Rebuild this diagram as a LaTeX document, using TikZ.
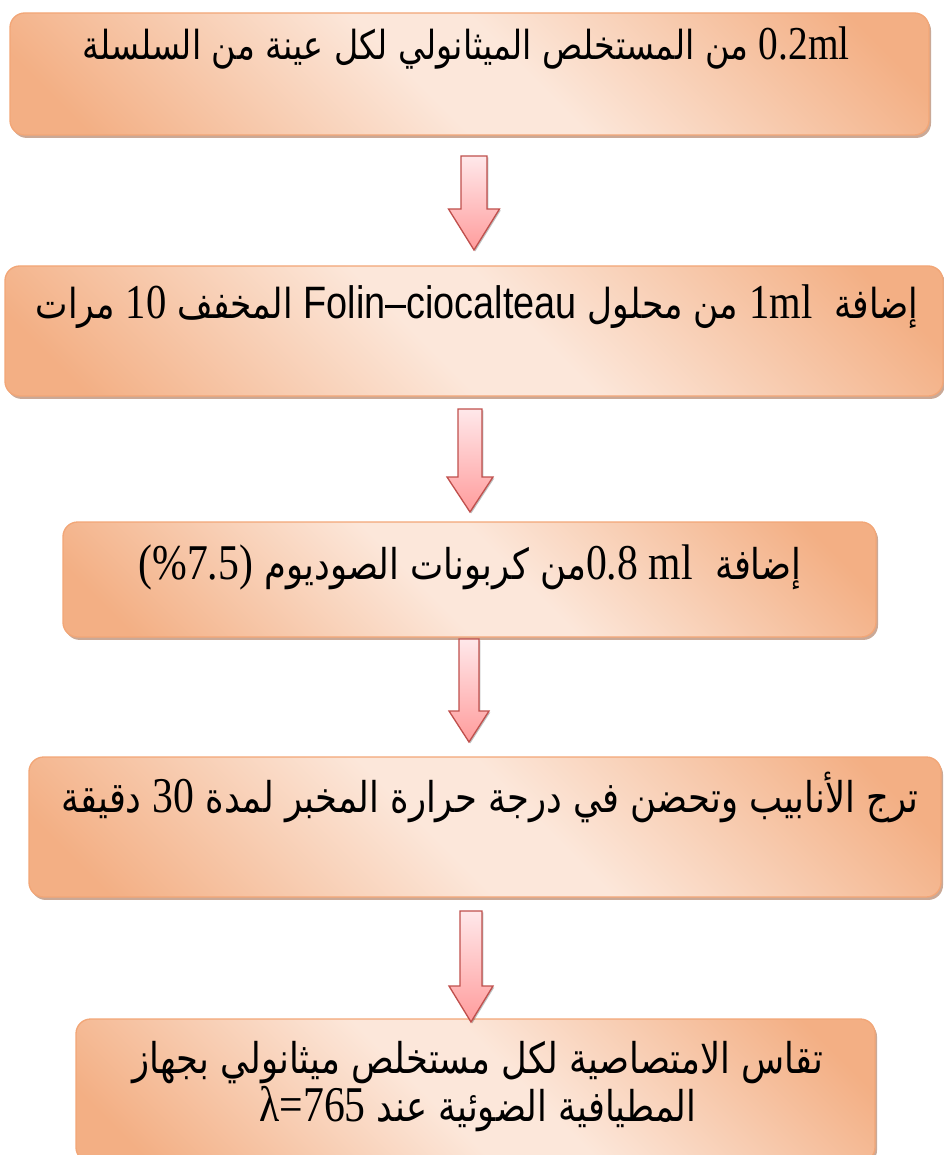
\documentclass[tikz,border=0pt]{standalone}
\usepackage{graphicx}
\usepackage{fontspec}
\setmainfont{Liberation Serif}
\newfontfamily\arabicfont[Script=Arabic]{DejaVu Sans}
\newfontfamily\latserif[Scale=1.18]{Liberation Serif}
\newfontfamily\latsansfont[Scale=1.1]{Liberation Sans}
\TeXXeTstate=1
\usetikzlibrary{calc,shadows}

\definecolor{boxdark}{HTML}{F3AF84}
\definecolor{boxlight}{HTML}{FCE7DA}
\definecolor{boxline}{HTML}{F2A677}
\definecolor{boxshadow}{HTML}{C4A08C}
\definecolor{arrowtop}{HTML}{FFE8EA}
\definecolor{arrowbot}{HTML}{FF9C9C}
\definecolor{arrowline}{HTML}{C0504D}

\pgfdeclarehorizontalshading{boxfill}{100bp}{color(0bp)=(boxdark); color(20bp)=(boxdark);
  color(46bp)=(boxlight); color(54bp)=(boxlight); color(80bp)=(boxdark); color(100bp)=(boxdark)}

% one line of right-to-left text, stretched like the original
\newcommand\rtl[1]{\scalebox{1}[1.2]{\beginR #1\endR}}
\newcommand\lat[1]{\beginL{\latserif #1}\endL}
\newcommand\latsans[1]{\beginL{\latsansfont #1}\endL}

\tikzset{ b/.style = { rectangle % step box
        , rounded corners = 11pt
        , draw = boxline
        , line width = 1pt
        , shading = boxfill
        , shading angle = 45
        , drop shadow = {shadow xshift=1.5pt, shadow yshift=-2.2pt, fill=boxshadow, opacity=0.9}
        }
        , t/.style = { rectangle % step text
        , inner sep = 0pt
        , align = center
        , font = \arabicfont\fontsize{26.5}{36}\selectfont
        }
        }

\begin{document}
\begin{tikzpicture}[x=0.75pt, y=-0.75pt,
        box_style/.style={b},
        text_style/.style={t},
        arrow_style/.style n args={3}{draw=arrowline, line width=1pt, top color=arrowtop, bottom color=arrowbot,
          drop shadow={shadow xshift=1pt, shadow yshift=-1pt, fill=black, opacity=0.25},
          to path={($(\tikztostart)+(-#1,0)$) -- ($(\tikztotarget)+(-#1,-#3)$) -- ($(\tikztotarget)+(-#2,-#3)$)
            -- (\tikztotarget) -- ($(\tikztotarget)+(#2,-#3)$) -- ($(\tikztotarget)+(#1,-#3)$)
            -- ($(\tikztostart)+(#1,0)$) -- cycle}}]
        \useasboundingbox (0,0) rectangle (944,1155);

        \node [box_style, minimum width={919*0.75pt}, minimum height={122*0.75pt}] (b1) at (469.5,74) {};
        \node [box_style, minimum width={938*0.75pt}, minimum height={130*0.75pt}] (b2) at (474,331) {};
        \node [box_style, minimum width={813*0.75pt}, minimum height={115*0.75pt}] (b3) at (469.5,579.5) {};
        \node [box_style, minimum width={912*0.75pt}, minimum height={140*0.75pt}] (b4) at (485,827) {};
        \node [box_style, minimum width={799*0.75pt}, minimum height={143*0.75pt}] (b5) at (475.5,1090.5) {};

        \node [text_style, font=\arabicfont\fontsize{25}{35}\selectfont] (t1) at (466,48) {\rtl{\lat{0.2ml} من المستخلص الميثانولي لكل عينة من السلسلة}};
        \node [text_style, font=\arabicfont\fontsize{25.8}{35}\selectfont] (t2) at (477,307) {\rtl{إضافة\ \ \lat{1ml} من محلول \latsans{Folin–ciocalteau} المخفف \lat{10} مرات}};
        \node [text_style] (t3) at (470,567) {\rtl{إضافة\ \ \lat{0.8 ml}من كربونات الصوديوم \lat{(\%7.5)}}};
        \node [text_style] (t4) at (490,797) {\rtl{ترج الأنابيب وتحضن في درجة حرارة المخبر لمدة \lat{30} دقيقة}};
        \node [text_style] (t5) at (478,1087) {\rtl{تقاس الامتصاصية لكل مستخلص ميثانولي بجهاز}\\
          \rtl{المطيافية الضوئية عند \lat{λ=765}}};

        \coordinate (a1) at (474,156);  \coordinate (h1) at (474,250);
        \coordinate (a2) at (470,409);  \coordinate (h2) at (470,512);
        \coordinate (a3) at (469,639);  \coordinate (h3) at (469,742);
        \coordinate (a4) at (471,911);  \coordinate (h4) at (471,1022);
        \draw [arrow_style={13}{25.5}{41}] (a1) to (h1);
        \draw [arrow_style={12}{23}{35}] (a2) to (h2);
        \draw [arrow_style={10}{20}{31}] (a3) to (h3);
        \draw [arrow_style={11}{22}{36}] (a4) to (h4);
\end{tikzpicture}
\end{document}
